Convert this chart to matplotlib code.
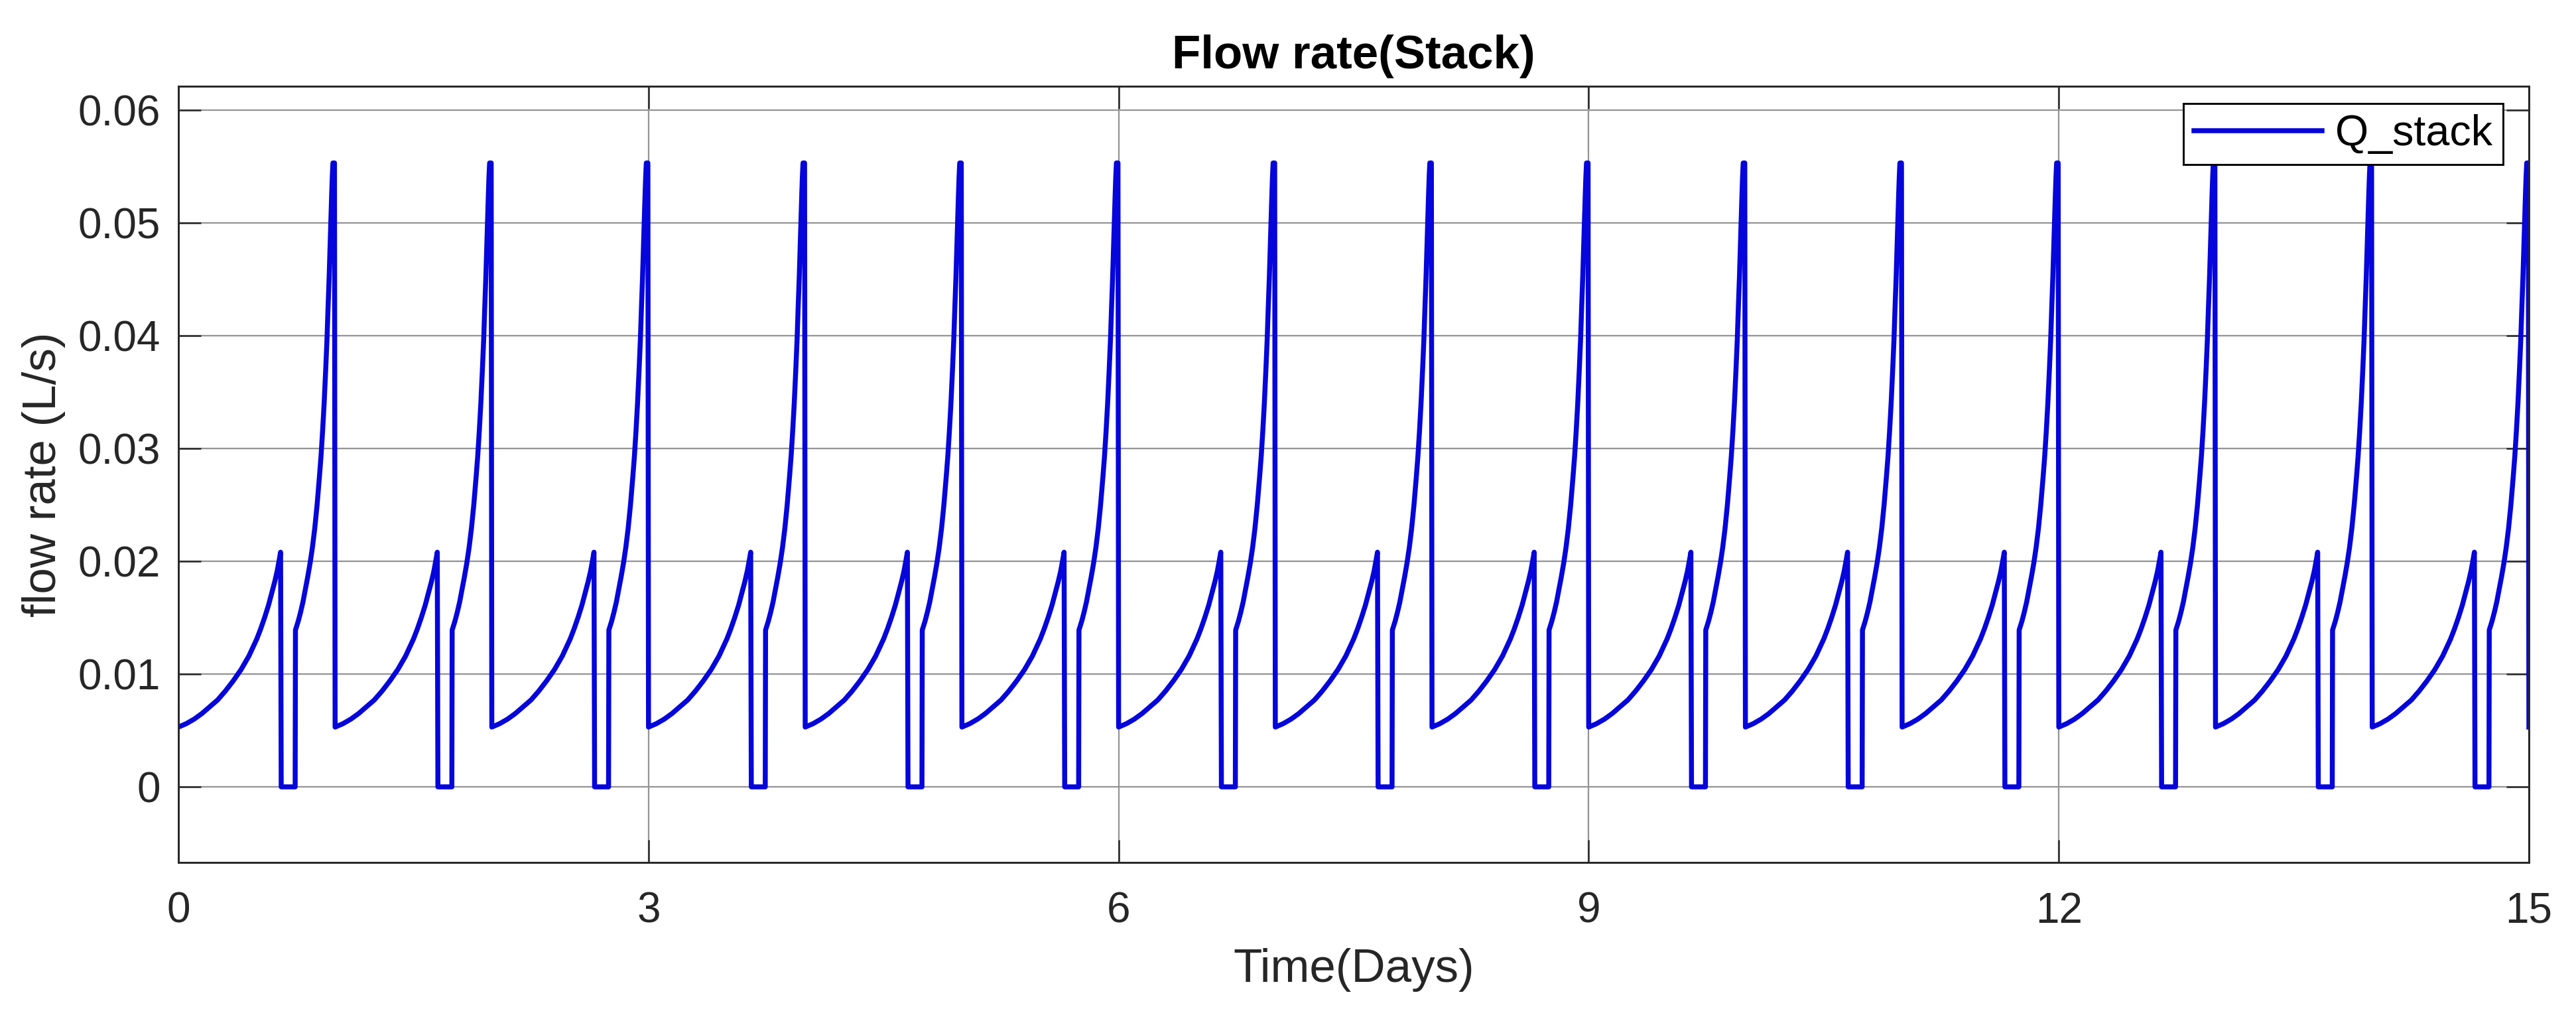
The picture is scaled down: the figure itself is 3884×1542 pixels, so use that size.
import numpy as np
import matplotlib
matplotlib.use("Agg")
import matplotlib.pyplot as plt

# ---- data (one daily cycle, identical each day) ----
# time within a day (days) and flow rate (L/s)
cycle_t = [0.000, 0.050, 0.100, 0.150, 0.200, 0.250, 0.300, 0.350, 0.400, 0.450,
           0.500, 0.525, 0.550, 0.575, 0.600, 0.615, 0.630, 0.642, 0.652,   # slow rise to small peak
           0.656, 0.745,                                                    # pump off (zero flow)
           0.747, 0.765, 0.780, 0.795, 0.810, 0.825, 0.840, 0.855, 0.870,
           0.885, 0.900, 0.910, 0.920, 0.930, 0.940, 0.948, 0.955, 0.962,
           0.968, 0.973, 0.978, 0.982, 0.986, 0.996]                        # steep rise to big peak
cycle_q = [0.0053, 0.0056, 0.0060, 0.0065, 0.0071, 0.0077, 0.0085, 0.0094, 0.0104, 0.0116,
           0.0131, 0.0140, 0.0150, 0.0161, 0.0174, 0.0182, 0.0191, 0.0200, 0.0208,
           0.0000, 0.0000,
           0.0139, 0.0147, 0.0155, 0.0164, 0.0175, 0.0186, 0.0198, 0.0212, 0.0229,
           0.0250, 0.0275, 0.0293, 0.0315, 0.0340, 0.0370, 0.0396, 0.0425, 0.0452,
           0.0480, 0.0503, 0.0525, 0.0541, 0.0553, 0.0553]
day_starts = [0, 1, 2, 3, 4, 5, 6, 7, 8, 9, 10, 11, 12, 13, 14]
end_t = [15.0]
end_q = [0.0053]

x_ticks = [0, 3, 6, 9, 12, 15]
x_tick_labels = ["0", "3", "6", "9", "12", "15"]
y_ticks = [0, 0.01, 0.02, 0.03, 0.04, 0.05, 0.06]
y_tick_labels = ["0", "0.01", "0.02", "0.03", "0.04", "0.05", "0.06"]

t = np.concatenate([np.asarray(cycle_t) + d for d in day_starts] + [np.asarray(end_t)])
q = np.concatenate([np.asarray(cycle_q) for _ in day_starts] + [np.asarray(end_q)])

# ---- figure ----
plt.rcParams['font.family'] = ['Liberation Sans', 'DejaVu Sans']
W, H, DPI = 3884, 1542, 300
fig = plt.figure(figsize=(W / DPI, H / DPI), dpi=DPI, facecolor="white")
ax = fig.add_axes([269 / W, 1 - 1300 / H, (3813 - 269) / W, (1300 - 130) / H])

ax.plot(t, q, color="#0505dc", lw=1.8, label="Q_stack", solid_joinstyle="round")

ax.set_xlim(0, 15)
ax.set_ylim(-0.0067, 0.0621)
ax.set_xticks(x_ticks)
ax.set_xticklabels(x_tick_labels)
ax.set_yticks(y_ticks)
ax.set_yticklabels(y_tick_labels)

txt = "#262626"
ax.tick_params(axis="both", direction="in", length=8.2, width=0.6, color=txt,
               labelsize=15.3, labelcolor=txt, top=True, right=True)
ax.tick_params(axis="x", pad=10.5)
ax.tick_params(axis="y", pad=6.5)
for s in ax.spines.values():
    s.set_color(txt)
    s.set_linewidth(0.7)

ax.grid(True, color="#959595", lw=0.55)
ax.set_axisbelow(True)

ax.set_title("Flow rate(Stack)", fontsize=17, fontweight="bold", color="black", pad=6.5)
ax.set_xlabel("Time(Days)", fontsize=17, color=txt, labelpad=6)
ax.set_ylabel("flow rate (L/s)", fontsize=17, color=txt, labelpad=4.5)

leg = ax.legend(loc="upper right", bbox_to_anchor=(3774 / W, 1 - 156 / H),
                bbox_transform=fig.transFigure, borderaxespad=0,
                fontsize=15.5, fancybox=False, frameon=True,
                handlelength=3.0, handletextpad=0.3, borderpad=0.25)
leg.get_frame().set_edgecolor("black")
leg.get_frame().set_linewidth(0.7)
leg.get_frame().set_facecolor("white")
leg.get_frame().set_alpha(1)
for text in leg.get_texts():
    text.set_color("black")

fig.savefig("out.png", dpi=DPI, facecolor="white")
